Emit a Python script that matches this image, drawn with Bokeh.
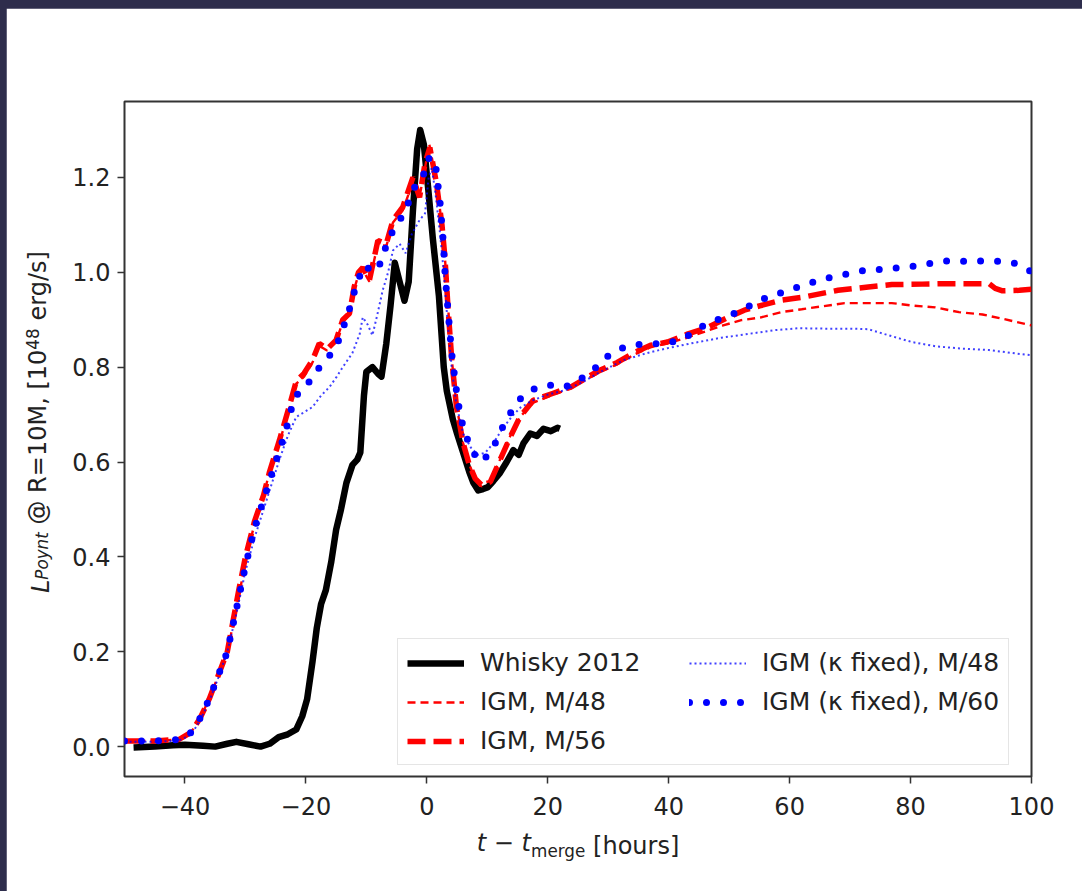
import numpy as np
from bokeh.plotting import figure
from bokeh.models import Legend, LegendItem, FixedTicker, Range1d, PrintfTickFormatter, LinearAxis
from bokeh.layouts import column
from bokeh.embed import file_html
from bokeh.resources import INLINE

# ---------------- data ----------------
x_whisky = [-48.5, -45, -42, -40, -37, -35, -33, -31.5, -29.5, -27.5, -26, -24.5, -23, -21.6, -20.6,
            -19.8, -18.9, -18.2, -17.5, -16.7, -15.8, -15, -14.2, -13.3, -12.3, -11.5, -11, -10.4, -10,
            -9, -8, -7.5, -6.7, -6, -5.3, -4.5, -3.7, -3, -2.3, -1.6, -1.1, -0.5, 0.2, 1, 2, 2.8, 3.3,
            4.3, 5, 6, 7, 7.7, 8.5, 9.3, 10.1, 11, 12.1, 13.2, 14.3, 15.2, 16, 17.1, 18.2, 19.3, 20.5,
            21.6, 22]
y_whisky = [-0.002, 0.0, 0.003, 0.004, 0.002, 0.0, 0.006, 0.01, 0.005, 0.0, 0.006, 0.02, 0.026, 0.036,
            0.064, 0.1, 0.18, 0.25, 0.30, 0.33, 0.39, 0.457, 0.50, 0.556, 0.594, 0.605, 0.62, 0.74, 0.79,
            0.80, 0.785, 0.78, 0.85, 0.93, 1.02, 0.98, 0.94, 0.98, 1.13, 1.26, 1.30, 1.27, 1.18, 1.07,
            0.95, 0.80, 0.75, 0.69, 0.66, 0.62, 0.58, 0.556, 0.54, 0.543, 0.547, 0.56, 0.577, 0.60, 0.625,
            0.615, 0.64, 0.66, 0.655, 0.67, 0.665, 0.672, 0.67]

x_igm48 = [-50, -45, -41, -39, -37.5, -36, -34.5, -33, -31.5, -30, -28.5, -27, -26, -24.4, -22.8, -21.6,
           -20.3, -18.9, -17.8, -16.5, -15, -13.9, -12.8, -12, -11.3, -10.6, -9.5, -8.1, -6.7, -5.6, -4.0,
           -2.3, -1.2, -0.3, 0.4, 1.6, 2.5, 3.0, 3.5, 4.1, 4.9, 6, 7, 8, 9, 10.5, 12.1, 13.8, 15.4, 17.6,
           20.9, 23.8, 26.6, 28.7, 31.5, 34.2, 37, 39.8, 43, 46, 49, 52, 55.3, 58.6, 62, 65.3, 69.1,
           73.1, 76.9, 80.2, 84.1, 88, 91.9, 95.2, 100]
y_igm48 = [0.012, 0.012, 0.015, 0.03, 0.06, 0.1, 0.15, 0.2, 0.29, 0.39, 0.47, 0.53, 0.58, 0.64, 0.71,
           0.765, 0.78, 0.81, 0.845, 0.835, 0.855, 0.895, 0.91, 0.965, 0.995, 1.005, 0.98, 1.06, 1.055,
           1.105, 1.13, 1.19, 1.16, 1.22, 1.27, 1.19, 1.10, 1.03, 0.93, 0.82, 0.72, 0.64, 0.595, 0.565,
           0.555, 0.56, 0.605, 0.655, 0.695, 0.725, 0.742, 0.755, 0.776, 0.79, 0.806, 0.826, 0.842,
           0.85, 0.862, 0.875, 0.888, 0.899, 0.905, 0.916, 0.922, 0.928, 0.935, 0.935, 0.935, 0.93,
           0.926, 0.916, 0.911, 0.902, 0.888]

x_igm56 = [-50, -45, -41, -39, -37.5, -36, -34.5, -33, -31.1, -30, -28.5, -27, -26, -24.4, -22.8, -21.6,
           -20.3, -18.9, -17.8, -16.5, -15, -13.9, -12.8, -12, -11.3, -10.6, -9.5, -8.1, -6.7, -5.6, -4.0,
           -2.3, -1.2, -0.3, 0.5, 1.6, 2.5, 3.0, 3.5, 4.1, 4.9, 6, 7, 8, 9, 10.5, 12.1, 13.8, 15.4, 17.6,
           20.9, 23.8, 26.6, 28.7, 31.5, 34.2, 37, 39.8, 43.2, 46.5, 49.8, 52.5, 55.3, 58.6, 62, 68, 73,
           76.9, 81.9, 86.3, 90.7, 93, 94, 95.2, 98, 100]
y_igm56 = [0.012, 0.012, 0.015, 0.03, 0.06, 0.1, 0.15, 0.2, 0.33, 0.40, 0.475, 0.53, 0.58, 0.645, 0.715,
           0.77, 0.787, 0.815, 0.85, 0.838, 0.857, 0.90, 0.913, 0.97, 1.0, 1.01, 0.983, 1.067, 1.06,
           1.11, 1.137, 1.20, 1.158, 1.23, 1.263, 1.187, 1.10, 1.03, 0.926, 0.82, 0.716, 0.64, 0.595,
           0.565, 0.552, 0.558, 0.604, 0.653, 0.695, 0.73, 0.745, 0.758, 0.779, 0.794, 0.81, 0.83,
           0.846, 0.853, 0.87, 0.884, 0.905, 0.92, 0.93, 0.941, 0.947, 0.962, 0.969, 0.974, 0.975,
           0.976, 0.976, 0.976, 0.966, 0.961, 0.962, 0.964]

x_kfix48 = [-50, -45, -41, -39, -37.5, -36, -34.5, -33, -31.5, -30, -28.5, -27, -25.5, -24.4, -23, -21.6,
            -20.3, -18.9, -17.5, -16.1, -14.9, -13.9, -12.3, -11.1, -10.6, -9.8, -9.0, -8.2, -7.3, -6.4,
            -5.6, -4.5, -3.5, -2.5, -1.2, -0.3, 0.3, 0.8, 1.4, 2.2, 2.8, 3.4, 4.1, 4.9, 6, 7.3, 8.5, 9.7,
            11, 12.5, 14, 15.5, 17.5, 20, 23, 26, 28.7, 32.6, 36.5, 39.8, 43.7, 48.7, 53.2, 57.5, 61.5,
            66.4, 70.3, 73, 76.4, 80.2, 84.1, 88.5, 93, 97.3, 100]
y_kfix48 = [0.01, 0.01, 0.013, 0.025, 0.055, 0.095, 0.145, 0.2, 0.28, 0.37, 0.44, 0.5, 0.56, 0.604, 0.655,
            0.695, 0.705, 0.716, 0.74, 0.758, 0.78, 0.80, 0.83, 0.87, 0.905, 0.89, 0.867, 0.91, 0.962,
            1.0, 1.046, 1.06, 1.04, 1.08, 1.11, 1.124, 1.2, 1.22, 1.17, 1.08, 1.0, 0.9, 0.8, 0.72, 0.66,
            0.63, 0.615, 0.62, 0.64, 0.67, 0.695, 0.715, 0.73, 0.742, 0.752, 0.77, 0.79, 0.815, 0.83,
            0.84, 0.85, 0.862, 0.87, 0.878, 0.882, 0.881, 0.881, 0.88, 0.867, 0.853, 0.844, 0.839,
            0.836, 0.829, 0.825]

x_kfix60 = [-50, -45, -41, -39, -37.5, -36, -34.5, -33, -31.5, -30, -28.5, -27, -25, -23.3, -21.9, -20,
            -18.6, -16.7, -15, -13.1, -12.3, -11.5, -10.3, -8.9, -7.3, -6.7, -5.5, -4.2, -3.1, -2.0, -0.9,
            0.2, 1.3, 1.6, 2.2, 2.7, 3.0, 3.5, 4.1, 4.9, 5.5, 6.2, 7.4, 8.8, 10.2, 11.6, 12.7, 14.1, 15.7,
            18, 20.4, 22.9, 25.4, 27.3, 29, 31.5, 34.2, 37, 39.8, 42.5, 44.8, 46.5, 49.2, 51.7, 54.2,
            56.7, 59.5, 62.2, 64.7, 67.5, 70.3, 73, 75.8, 78.6, 81.1, 83.3, 86, 88.8, 91.5, 94.4, 97,
            99.6, 100]
y_kfix60 = [0.012, 0.012, 0.015, 0.03, 0.06, 0.1, 0.15, 0.2, 0.29, 0.38, 0.46, 0.52, 0.60, 0.667, 0.737,
            0.758, 0.787, 0.815, 0.842, 0.909, 0.945, 0.98, 1.015, 1.0, 1.025, 1.06, 1.09, 1.116, 1.145,
            1.18, 1.19, 1.24, 1.24, 1.21, 1.145, 1.067, 1.0, 0.92, 0.83, 0.75, 0.70, 0.665, 0.625, 0.60,
            0.615, 0.646, 0.678, 0.709, 0.737, 0.756, 0.762, 0.758, 0.775, 0.79, 0.815, 0.837, 0.847,
            0.849, 0.85, 0.86, 0.88, 0.893, 0.905, 0.918, 0.935, 0.95, 0.96, 0.973, 0.982, 0.992, 0.998,
            1.006, 1.006, 1.011, 1.013, 1.019, 1.024, 1.023, 1.024, 1.023, 1.02, 1.004, 1.0]

labels = ["Whisky 2012", "IGM, M/48", "IGM, M/56", "IGM (κ fixed), M/48", "IGM (κ fixed), M/60"]
x_ticks = [-40, -20, 0, 20, 40, 60, 80, 100]
y_ticks = [0.0, 0.2, 0.4, 0.6, 0.8, 1.0, 1.2]
x_lim = (-50, 100)
y_lim = (-0.063, 1.36)

# ---------------- figure ----------------
FONT = "DejaVu Sans"
TICKF = 24
AXF = 24
SUBF = 16.8
LEGF = 25
W_FIG, H_FIG = 1076, 883
BL, BR, BT, BB = 118, 51, 93, 115

p = figure(width=W_FIG, height=H_FIG, output_backend="svg", toolbar_location=None,
           x_range=Range1d(*x_lim), y_range=Range1d(*y_lim),
           min_border_left=BL, min_border_right=BR, min_border_top=BT, min_border_bottom=BB,
           background_fill_color="white", border_fill_color="white")
p.margin = (8, 0, 0, 6)
p.grid.visible = False
p.outline_line_color = "#333333"
p.outline_line_width = 2

xa, ya = p.xaxis[0], p.yaxis[0]
for ax in (xa, ya):
    ax.axis_line_color = None
    ax.major_tick_out = 7
    ax.major_tick_in = 0
    ax.minor_tick_out = 0
    ax.minor_tick_in = 0
    ax.major_tick_line_color = "#333333"
    ax.major_tick_line_width = 1.5
    ax.major_label_text_font = FONT
    ax.major_label_text_font_size = f"{TICKF}px"
    ax.major_label_text_color = "#222222"
xa.major_label_standoff = 13
ya.major_label_standoff = 7
xa.ticker = FixedTicker(ticks=x_ticks)
xa.major_label_overrides = {t: (f"−{abs(t)}" if t < 0 else str(t)) for t in x_ticks}
ya.ticker = FixedTicker(ticks=y_ticks)
ya.formatter = PrintfTickFormatter(format="%.1f")

r1 = p.line(x_whisky, y_whisky, line_color="black", line_width=6.5, line_join="round")
r2 = p.line(x_igm48, y_igm48, line_color="red", line_width=2.4, line_dash="8 5")
r3 = p.line(x_igm56, y_igm56, line_color="red", line_width=5.5, line_dash="18 8")
r4 = p.line(x_kfix48, y_kfix48, line_color="blue", line_alpha=0.75, line_width=2, line_dash="2 3")
r5 = p.line(x_kfix60, y_kfix60, line_color="blue", line_width=7, line_dash="0 17", line_cap="round")

legend = Legend(items=[LegendItem(label=l, renderers=[r]) for l, r in zip(labels, [r1, r2, r3, r4, r5])],
                ncols=2, location=(273, 11), margin=0, padding=9, spacing=10,
                glyph_width=57, glyph_height=28, label_height=28, label_width=199, label_standoff=16,
                label_text_font=FONT, label_text_font_size=f"{LEGF}px", label_text_color="#222222",
                border_line_color="#cccccc", border_line_width=1.5, background_fill_alpha=0.85)
p.add_layout(legend)

# ---------------- axis titles, built from text-only axes (mathtext-like pieces) ----------------
ADV = {'t': .392, ' ': .318, '−': .838, 'm': .974, 'e': .615, 'r': .411, 'g': .635, '[': .390, ']': .390,
       'h': .634, 'o': .612, 'u': .634, 's': .521, 'L': .557, 'P': .603, 'y': .592, 'n': .634, '@': 1.0,
       'R': .695, '=': .838, '1': .636, '0': .636, 'M': .863, ',': .318, '4': .636, '8': .636, '/': .337}


def tw(s, size):
    return sum(ADV.get(c, 0.6) for c in s) * size


ppx = (W_FIG - BL - BR) / (x_lim[1] - x_lim[0])
ppy = (H_FIG - BT - BB) / (y_lim[1] - y_lim[0])
x_mid = (x_lim[0] + x_lim[1]) / 2
y_mid = (y_lim[0] + y_lim[1]) / 2


def text_axis(side, pieces, size, style, standoff, vertical=False):
    ticks = [round(v, 5) for v, _ in pieces]
    ax = LinearAxis(ticker=FixedTicker(ticks=ticks),
                    major_label_overrides={t: s for t, (_, s) in zip(ticks, pieces)},
                    axis_line_color=None, major_tick_line_color=None, minor_tick_line_color=None,
                    major_tick_out=0, major_tick_in=0, minor_tick_out=0, minor_tick_in=0,
                    major_label_standoff=standoff, major_label_text_font=FONT,
                    major_label_text_font_size=f"{size:.1f}px", major_label_text_font_style=style,
                    major_label_text_color="#222222")
    if vertical:
        ax.major_label_orientation = "vertical"
    p.add_layout(ax, side)


# x title: "t − t" + subscript "merge" + " [hours]"
xw = [tw("t − t", AXF), tw("merge", SUBF), tw(" ", AXF), tw("[hours]", AXF)]
x0 = -sum(xw) / 2
c_tt = x0 + xw[0] / 2
c_mg = x0 + xw[0] + xw[1] / 2
c_hr = x0 + xw[0] + xw[1] + xw[2] + xw[3] / 2
to_x = lambda px: x_mid + px / ppx
text_axis("below", [(to_x(c_tt), "t − t")], AXF, "italic", 11)
text_axis("below", [(to_x(c_hr), "[hours]")], AXF, "normal", -28)
text_axis("below", [(to_x(c_mg), "merge")], SUBF, "normal", -22)

# y title: "L" + subscript "Poynt" + " @ R=10M, [10" + superscript "48" + " erg/s]"
YSHIFT = 17   # px upwards
yw = [tw("L", AXF), tw("Poynt", SUBF), tw(" ", AXF), tw("@ R=10M, [10", AXF), tw("48", SUBF),
      tw(" ", AXF), tw("erg/s]", AXF)]
y0 = -sum(yw) / 2 + YSHIFT
cum = np.concatenate([[0], np.cumsum(yw)])
centre = lambda i: y0 + cum[i] + yw[i] / 2
to_y = lambda px: y_mid + px / ppy
text_axis("left", [(to_y(centre(0)), "L")], AXF, "italic", 14, vertical=True)
text_axis("left", [(to_y(centre(3)), "@ R=10M, [10"), (to_y(centre(6)), "erg/s]")], AXF, "normal", -28,
          vertical=True)
text_axis("left", [(to_y(centre(1)), "Poynt")], SUBF, "italic", -31, vertical=True)
text_axis("left", [(to_y(centre(4)), "48")], SUBF, "normal", -18, vertical=True)

page = column(p, styles={"background-color": "#2e2d4c"})
open("out.html", "w").write(file_html(page, INLINE))
